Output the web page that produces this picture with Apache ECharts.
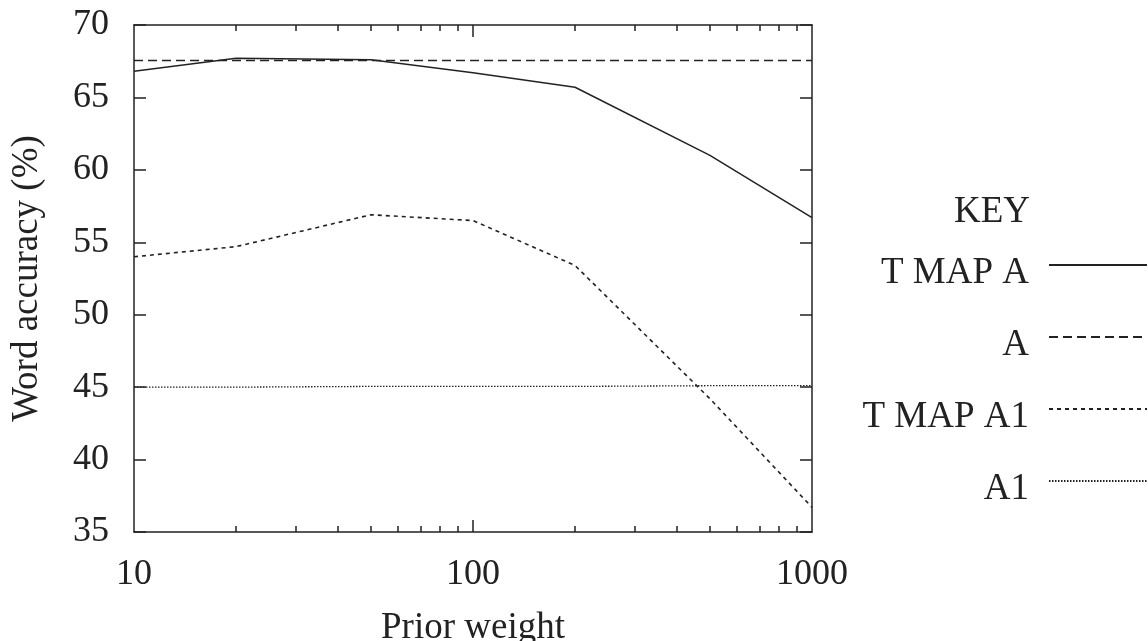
<!DOCTYPE html>
<html><head><meta charset="utf-8">
<script src="https://cdn.jsdelivr.net/npm/echarts@6/dist/echarts.min.js"></script>
<style>html,body{margin:0;padding:0;background:#fff}#c{width:1148px;height:641px}</style>
</head><body><div id="c"></div>
<script>
const priorWeights = [10, 20, 50, 100, 200, 500, 1000];
const tmapA  = [66.8, 67.7, 67.6, 66.7, 65.7, 61.0, 56.7];
const accA   = [67.55, 67.55, 67.55, 67.55, 67.55, 67.55, 67.55];
const tmapA1 = [54.0, 54.7, 56.9, 56.5, 53.4, 44.2, 36.7];
const accA1  = [45.0, 45.0, 45.05, 45.05, 45.05, 45.1, 45.1];
const seriesNames = ['T MAP A', 'A', 'T MAP A1', 'A1'];
const xMajorTicks = [10, 100, 1000];
const xMinorTicks = [20,30,40,50,60,70,80,90,200,300,400,500,600,700,800,900];
const yMin = 35, yMax = 70, yStep = 5;

const ink = '#222';
const font = 'Liberation Serif';
const pairs = arr => priorWeights.map((x, i) => [x, arr[i]]);

function xAx(pos, ticks, len, labels, line) {
  return {
    type: 'log', logBase: 10, min: 10, max: 1000, position: pos,
    axisLine: {show: line, onZero: false, lineStyle: {color: ink, width: 1.5}},
    axisTick: {show: true, inside: true, length: len, customValues: ticks, lineStyle: {color: ink, width: 1.5}},
    axisLabel: labels ? {show: true, customValues: xMajorTicks, margin: 25, color: ink, fontFamily: font, fontSize: 36,
                          formatter: v => String(Math.round(v))} : {show: false},
    splitLine: {show: false}, minorTick: {show: false}
  };
}

function legendPart(top, showText, showIcon) {
  return {
    orient: 'vertical', right: 0, top: top, align: 'right', padding: 0,
    itemWidth: 98, itemHeight: 14, itemGap: 24,
    data: seriesNames,
    itemStyle: {opacity: 0},
    lineStyle: showIcon ? {} : {opacity: 0},
    textStyle: {fontFamily: font, fontSize: 37, color: showText ? ink : 'rgba(0,0,0,0)', lineHeight: 36,
                padding: [0, 15, 12, 0]}
  };
}

const chart = echarts.init(document.getElementById('c'), null, {renderer: 'canvas'});
chart.setOption({
  animation: false,
  backgroundColor: '#fff',
  grid: {left: 134, right: 336, top: 25, bottom: 109, containLabel: false, outerBoundsMode: 'none'},
  title: {text: 'KEY', right: 118, top: 193, padding: 0,
          textStyle: {fontFamily: font, fontSize: 37, fontWeight: 'normal', color: ink, lineHeight: 38}},
  legend: [legendPart(241, false, true), legendPart(249, true, false)],
  xAxis: [
    Object.assign(xAx('bottom', [100], 12, true, true), {
      name: 'Prior weight', nameLocation: 'middle', nameGap: 78,
      nameTextStyle: {fontFamily: font, fontSize: 37, color: ink}}),
    xAx('bottom', xMinorTicks, 6, false, false),
    xAx('top', [100], 12, false, true),
    xAx('top', xMinorTicks, 6, false, false)
  ],
  yAxis: [
    {type: 'value', min: yMin, max: yMax, interval: yStep, position: 'left',
     name: 'Word accuracy (%)', nameLocation: 'middle', nameGap: 88,
     nameTextStyle: {fontFamily: font, fontSize: 37, color: ink},
     axisLine: {show: true, lineStyle: {color: ink, width: 1.5}},
     axisTick: {show: true, inside: true, length: 12, lineStyle: {color: ink, width: 1.5}},
     axisLabel: {margin: 25, color: ink, fontFamily: font, fontSize: 36},
     splitLine: {show: false}},
    {type: 'value', min: yMin, max: yMax, interval: yStep, position: 'right',
     axisLine: {show: true, lineStyle: {color: ink, width: 1.5}},
     axisTick: {show: true, inside: true, length: 12, lineStyle: {color: ink, width: 1.5}},
     axisLabel: {show: false}, splitLine: {show: false}}
  ],
  series: [
    {name: seriesNames[0], type: 'line', data: pairs(tmapA), symbol: 'none', color: ink,
     lineStyle: {color: ink, width: 1.5, type: 'solid'}},
    {name: seriesNames[1], type: 'line', data: pairs(accA), symbol: 'none', color: ink,
     lineStyle: {color: ink, width: 1.5, type: [9, 5]}},
    {name: seriesNames[2], type: 'line', data: pairs(tmapA1), symbol: 'none', color: ink,
     lineStyle: {color: ink, width: 1.6, type: [4, 4]}},
    {name: seriesNames[3], type: 'line', data: pairs(accA1), symbol: 'none', color: ink,
     lineStyle: {color: ink, width: 1.3, type: [1.5, 1.5]}}
  ]
});
</script></body></html>
